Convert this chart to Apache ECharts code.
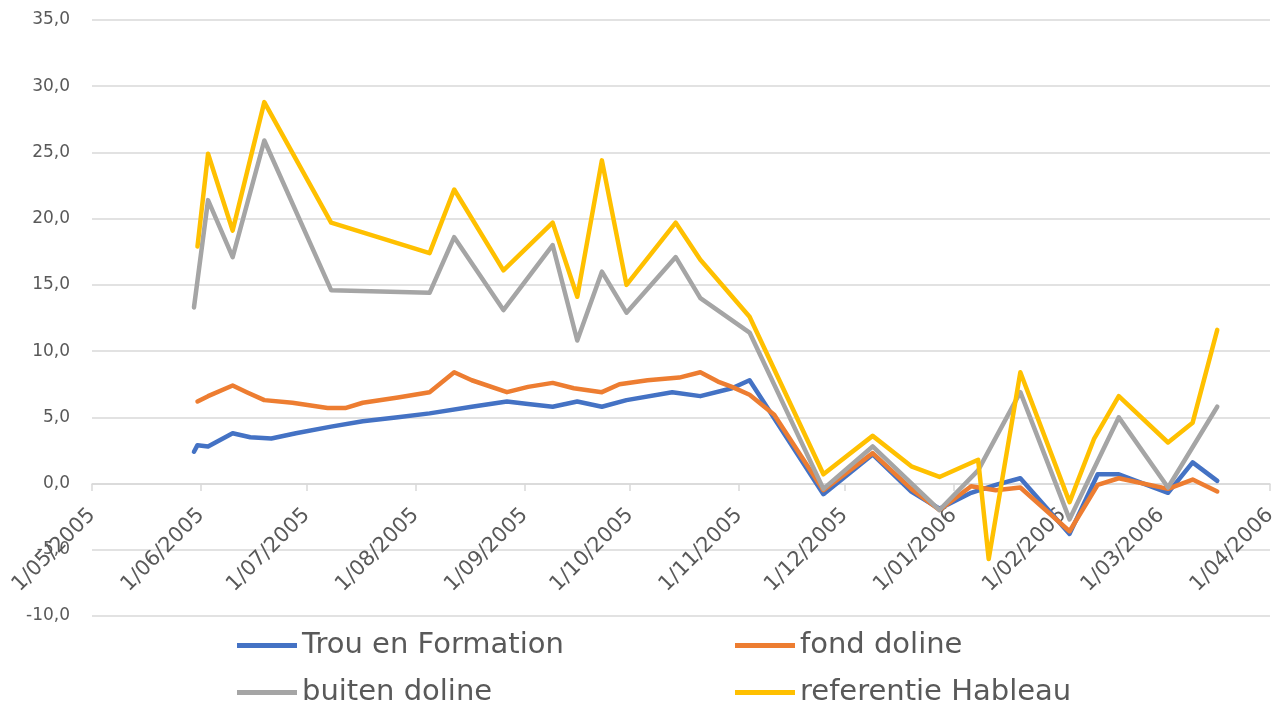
<!DOCTYPE html>
<html>
<head>
<meta charset="utf-8">
<script src="https://cdn.jsdelivr.net/npm/echarts@6/dist/echarts.min.js"></script>
<style>
  html, body { margin: 0; padding: 0; background: #fff; }
  #main { width: 1287px; height: 708px; }
</style>
</head>
<body>
<div id="main"></div>
<script>
var seriesNames = ['Trou en Formation', 'fond doline', 'buiten doline', 'referentie Hableau'];
var seriesColors = ['#4472C4', '#ED7D31', '#A5A5A5', '#FFC000'];

// Trou en Formation
var trouDates = ['2005-05-30', '2005-05-31', '2005-06-03', '2005-06-10', '2005-06-15', '2005-06-21',
    '2005-06-28', '2005-07-08', '2005-07-17', '2005-07-27', '2005-08-05', '2005-08-17', '2005-08-27',
    '2005-09-02', '2005-09-09', '2005-09-16', '2005-09-23', '2005-09-30', '2005-10-13', '2005-10-21',
    '2005-10-30', '2005-11-04', '2005-11-25', '2005-12-09', '2005-12-20', '2005-12-28', '2006-01-06',
    '2006-01-13', '2006-01-20', '2006-02-03', '2006-02-11', '2006-02-17', '2006-03-03', '2006-03-10',
    '2006-03-17'];
var trouValues = [2.4, 2.9, 2.8, 3.8, 3.5, 3.4,
    3.8, 4.3, 4.7, 5.0, 5.3, 5.8, 6.2,
    6.0, 5.8, 6.2, 5.8, 6.3, 6.9, 6.6,
    7.2, 7.8, -0.8, 2.2, -0.6, -1.9, -0.7,
    -0.1, 0.4, -3.8, 0.7, 0.7, -0.7, 1.6,
    0.2];

// fond doline
var fondDates = ['2005-05-31', '2005-06-03', '2005-06-10', '2005-06-14', '2005-06-19', '2005-06-27',
    '2005-07-07', '2005-07-12', '2005-07-17', '2005-07-27', '2005-08-05', '2005-08-12', '2005-08-17',
    '2005-08-27', '2005-09-02', '2005-09-09', '2005-09-15', '2005-09-23', '2005-09-28', '2005-10-06',
    '2005-10-15', '2005-10-21', '2005-10-26', '2005-10-30', '2005-11-04', '2005-11-11', '2005-11-25',
    '2005-12-09', '2005-12-20', '2005-12-28', '2006-01-06', '2006-01-13', '2006-01-20', '2006-02-03',
    '2006-02-11', '2006-02-17', '2006-03-03', '2006-03-10', '2006-03-17'];
var fondValues = [6.2, 6.6, 7.4, 6.9, 6.3, 6.1,
    5.7, 5.7, 6.1, 6.5, 6.9, 8.4, 7.8,
    6.9, 7.3, 7.6, 7.2, 6.9, 7.5, 7.8,
    8.0, 8.4, 7.7, 7.3, 6.7, 5.2, -0.5,
    2.3, -0.4, -2.0, -0.2, -0.5, -0.3, -3.6,
    -0.1, 0.4, -0.4, 0.3, -0.6];

// buiten doline
var buitenDates = ['2005-05-30', '2005-06-03', '2005-06-10', '2005-06-19', '2005-07-08', '2005-08-05',
    '2005-08-12', '2005-08-26', '2005-09-09', '2005-09-16', '2005-09-23', '2005-09-30', '2005-10-14',
    '2005-10-21', '2005-11-04', '2005-11-25', '2005-12-09', '2005-12-28', '2006-01-08', '2006-01-20',
    '2006-02-03', '2006-02-17', '2006-03-03', '2006-03-17'];
var buitenValues = [13.3, 21.4, 17.1, 25.9, 14.6, 14.4,
    18.6, 13.1, 18.0, 10.8, 16.0, 12.9, 17.1,
    14.0, 11.4, -0.4, 2.8, -2.0, 1.0, 6.9,
    -2.7, 5.0, -0.3, 5.8];

// referentie Hableau
var refDates = ['2005-05-31', '2005-06-03', '2005-06-10', '2005-06-19', '2005-07-08', '2005-08-05',
    '2005-08-12', '2005-08-26', '2005-09-09', '2005-09-16', '2005-09-23', '2005-09-30', '2005-10-14',
    '2005-10-21', '2005-11-04', '2005-11-25', '2005-12-09', '2005-12-20', '2005-12-28', '2006-01-08',
    '2006-01-11', '2006-01-20', '2006-02-03', '2006-02-10', '2006-02-17', '2006-03-03', '2006-03-10',
    '2006-03-17'];
var refValues = [17.9, 24.9, 19.1, 28.8, 19.7, 17.4,
    22.2, 16.1, 19.7, 14.1, 24.4, 15.0, 19.7,
    16.9, 12.6, 0.7, 3.6, 1.3, 0.5, 1.8,
    -5.7, 8.4, -1.4, 3.4, 6.6, 3.1, 4.6,
    11.6];

var xMin = '2005-05-01';
var xMax = '2006-04-01';
var yMin = -10;
var yMax = 35;
var yStep = 5;

function pairs(dates, values) {
    var out = [];
    for (var i = 0; i < dates.length; i++) {
        out.push([dates[i], values[i]]);
    }
    return out;
}

function pad(n) {
    return n < 10 ? '0' + n : '' + n;
}

var allDates = [trouDates, fondDates, buitenDates, refDates];
var allValues = [trouValues, fondValues, buitenValues, refValues];
var series = [];
for (var i = 0; i < seriesNames.length; i++) {
    series.push({
        name: seriesNames[i],
        type: 'line',
        showSymbol: false,
        symbol: 'none',
        data: pairs(allDates[i], allValues[i]),
        lineStyle: { width: 4.5, color: seriesColors[i], join: 'round', cap: 'round' },
        itemStyle: { color: seriesColors[i] },
        animation: false
    });
}

// one legend per entry so the 2x2 layout is fixed
var legendPos = [[237, 631], [735, 631], [237, 678], [735, 678]];
var legends = [];
for (var i = 0; i < seriesNames.length; i++) {
    legends.push({
        data: [seriesNames[i]],
        left: legendPos[i][0],
        top: legendPos[i][1],
        padding: 0,
        icon: 'rect',
        itemWidth: 60,
        itemHeight: 5,
        selectedMode: false,
        textStyle: { fontFamily: 'DejaVu Sans', fontSize: 29, color: '#595959' }
    });
}

var chart = echarts.init(document.getElementById('main'));
chart.setOption({
    animation: false,
    grid: { left: 92, right: 17, top: 20, bottom: 92, containLabel: false },
    legend: legends,
    xAxis: {
        type: 'time',
        min: xMin,
        max: xMax,
        splitNumber: 11,
        // the axis sits on the 0 line: 132px above the grid bottom
        offset: -132,
        axisLine: { onZero: false, lineStyle: { color: '#d9d9d9', width: 1.5 } },
        axisTick: { show: true, length: 7, lineStyle: { color: '#d9d9d9', width: 1.5 } },
        splitLine: { show: false },
        axisLabel: {
            rotate: 45,
            margin: 28,
            fontFamily: 'DejaVu Sans',
            fontSize: 21,
            color: '#595959',
            showMinLabel: true,
            showMaxLabel: true,
            hideOverlap: false,
            formatter: function (value) {
                var d = new Date(value);
                return d.getDate() + '/' + pad(d.getMonth() + 1) + '/' + d.getFullYear();
            }
        }
    },
    yAxis: {
        type: 'value',
        min: yMin,
        max: yMax,
        interval: yStep,
        axisLine: { show: false },
        axisTick: { show: false },
        splitLine: { lineStyle: { color: '#d9d9d9', width: 1.5 } },
        axisLabel: {
            margin: 22,
            fontFamily: 'DejaVu Sans',
            fontSize: 17,
            color: '#595959',
            formatter: function (v) {
                return v.toFixed(1).replace('.', ',');
            }
        }
    },
    series: series
});
</script>
</body>
</html>
